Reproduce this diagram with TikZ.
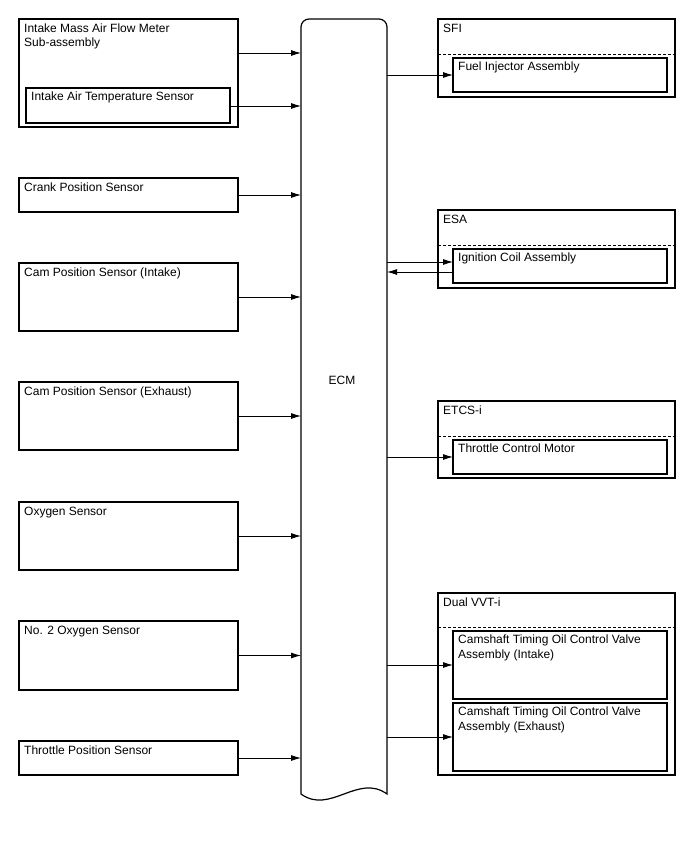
\documentclass[tikz,border=0pt]{standalone}
\usepackage{fontspec}
\setmainfont{Liberation Sans}
\usetikzlibrary{arrows.meta,calc}
\begin{document}
\begin{tikzpicture}[x=1bp,y=-1bp,
  box/.style={draw, line width=1.2bp, anchor=north west, inner sep=0pt, outer sep=0pt},
  txt/.style={anchor=base west, inner sep=0pt, font=\fontsize{12bp}{14.5bp}\selectfont},
  arr/.style={line width=0.9bp, -{Latex[length=10bp,width=6bp]}},
  sepline/.style={dash pattern=on 3bp off 2bp, line width=0.8bp},
  ecmline/.style={line width=1.2bp}]
\useasboundingbox (0,0) rectangle (688,852);

% ECM
\node[anchor=north west, inner sep=0pt, outer sep=0pt, minimum width=86bp, minimum height=775bp] (ecm) at (301,19) {};
\draw[ecmline] (301,794) -- (301,27) arc[start angle=180, end angle=270, radius=8]
  -- (379,19) arc[start angle=270, end angle=360, radius=8]
  -- (387,794) .. controls (358,773) and (330,815) .. cycle;
\node[txt, anchor=center] (ecmt) at (342,380) {ECM};

% left boxes
\node[box, minimum width=219bp, minimum height=108bp] (maf) at (19,19) {};
\node[txt] (maft1) at ($(maf.north west)+(5,13)$) {Intake Mass Air Flow Meter};
\node[txt] (maft2) at ($(maf.north west)+(5,27.5)$) {Sub-assembly};
\node[box, minimum width=204bp, minimum height=35bp] (iat) at (26,88) {};
\node[txt] (iatt) at ($(iat.north west)+(5,12)$) {Intake Air Temperature Sensor};

\node[box, minimum width=219bp, minimum height=34bp] (crank) at (19,178) {};
\node[txt] (crankt) at ($(crank.north west)+(5,13)$) {Crank Position Sensor};

\node[box, minimum width=219bp, minimum height=68bp] (camin) at (19,263) {};
\node[txt] (camint) at ($(camin.north west)+(5,13)$) {Cam Position Sensor (Intake)};

\node[box, minimum width=219bp, minimum height=68bp] (camex) at (19,382) {};
\node[txt] (camext) at ($(camex.north west)+(5,13)$) {Cam Position Sensor (Exhaust)};

\node[box, minimum width=219bp, minimum height=68bp] (oxy) at (19,502) {};
\node[txt] (oxyt) at ($(oxy.north west)+(5,13)$) {Oxygen Sensor};

\node[box, minimum width=219bp, minimum height=69bp] (oxytwo) at (19,621) {};
\node[txt] (oxytwot) at ($(oxytwo.north west)+(5,13)$) {No. 2 Oxygen Sensor};

\node[box, minimum width=219bp, minimum height=34bp] (tps) at (19,741) {};
\node[txt] (tpst) at ($(tps.north west)+(5,13)$) {Throttle Position Sensor};

% left arrows
\coordinate (mafout) at ($(maf.north east)+(0,34)$);
\coordinate (iatout) at ($(iat.north east)+(0,18)$);
\draw[arr] (mafout) -- (mafout -| ecm.west);
\draw[arr] (iatout) -- (iatout -| ecm.west);
\draw[arr] (crank.east) -- (crank.east -| ecm.west);
\draw[arr] (camin.east) -- (camin.east -| ecm.west);
\draw[arr] (camex.east) -- (camex.east -| ecm.west);
\draw[arr] (oxy.east) -- (oxy.east -| ecm.west);
\draw[arr] (oxytwo.east) -- (oxytwo.east -| ecm.west);
\draw[arr] (tps.east) -- (tps.east -| ecm.west);

% right boxes
\node[box, minimum width=237bp, minimum height=78bp] (sfi) at (438,19) {};
\node[txt] (sfit) at ($(sfi.north west)+(5,13.5)$) {SFI};
\draw[sepline] ($(sfi.north west)+(0,35)$) -- ($(sfi.north east)+(0,35)$);
\node[box, minimum width=214bp, minimum height=34bp] (inj) at (453,58) {};
\node[txt] (injt) at ($(inj.north west)+(5,12)$) {Fuel Injector Assembly};

\node[box, minimum width=237bp, minimum height=78bp] (esa) at (438,210) {};
\node[txt] (esat) at ($(esa.north west)+(5,13.5)$) {ESA};
\draw[sepline] ($(esa.north west)+(0,35)$) -- ($(esa.north east)+(0,35)$);
\node[box, minimum width=214bp, minimum height=34bp] (ign) at (453,249) {};
\node[txt] (ignt) at ($(ign.north west)+(5,12)$) {Ignition Coil Assembly};

\node[box, minimum width=237bp, minimum height=77bp] (etcs) at (438,401) {};
\node[txt] (etcst) at ($(etcs.north west)+(5,13.5)$) {ETCS-i};
\draw[sepline] ($(etcs.north west)+(0,35)$) -- ($(etcs.north east)+(0,35)$);
\node[box, minimum width=214bp, minimum height=34bp] (thr) at (453,440) {};
\node[txt] (thrt) at ($(thr.north west)+(5,12)$) {Throttle Control Motor};

\node[box, minimum width=237bp, minimum height=182bp] (vvt) at (438,593) {};
\node[txt] (vvtt) at ($(vvt.north west)+(5,13.5)$) {Dual VVT-i};
\draw[sepline] ($(vvt.north west)+(0,34)$) -- ($(vvt.north east)+(0,34)$);
\node[box, minimum width=214bp, minimum height=68bp] (ocvin) at (453,631) {};
\node[txt] (ocvint1) at ($(ocvin.north west)+(5,12.5)$) {Camshaft Timing Oil Control Valve};
\node[txt] (ocvint2) at ($(ocvin.north west)+(5,27)$) {Assembly (Intake)};
\node[box, minimum width=214bp, minimum height=68bp] (ocvex) at (453,703) {};
\node[txt] (ocvext1) at ($(ocvex.north west)+(5,12.5)$) {Camshaft Timing Oil Control Valve};
\node[txt] (ocvext2) at ($(ocvex.north west)+(5,27)$) {Assembly (Exhaust)};

% right arrows
\coordinate (ignin) at ($(ign.west)+(0,-4)$);
\coordinate (ignout) at ($(ign.west)+(0,6)$);
\draw[arr] (inj.west -| ecm.east) -- (inj.west);
\draw[arr] (ignin -| ecm.east) -- (ignin);
\draw[arr] (ignout) -- (ignout -| ecm.east);
\draw[arr] (thr.west -| ecm.east) -- (thr.west);
\draw[arr] (ocvin.west -| ecm.east) -- (ocvin.west);
\draw[arr] (ocvex.west -| ecm.east) -- (ocvex.west);
\end{tikzpicture}
\end{document}
